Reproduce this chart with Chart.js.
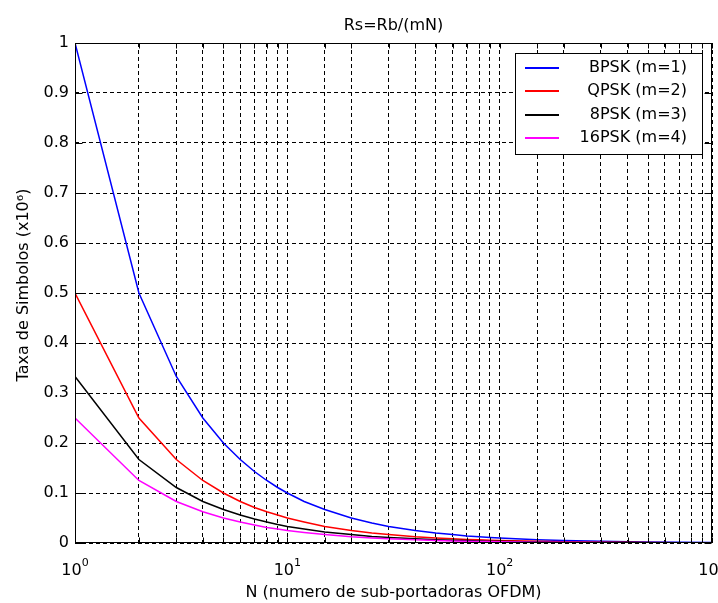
<!DOCTYPE html>
<html><head><meta charset="utf-8">
<script src="https://cdn.jsdelivr.net/npm/chart.js@4/dist/chart.umd.min.js"></script>
<style>html,body{margin:0;padding:0;background:#fff;overflow:hidden}
#wrap{width:718px;height:603px;position:relative}</style>
</head><body><div id="wrap"><canvas id="c" width="718" height="603"></canvas></div>
<script>
const chartTitle = 'Rs=Rb/(mN)';
const xTitle = 'N (numero de sub-portadoras OFDM)';
const yTitle = 'Taxa de Simbolos (x10\u2076)';
const xTickValues = [1, 10, 100, 1000];
const xTickExponents = ['0', '1', '2', '3'];
const seriesLabels = ['BPSK (m=1)', 'QPSK (m=2)', '8PSK (m=3)', '16PSK (m=4)'];
const seriesColors = ['#0000ff', '#ff0000', '#000000', '#ff00ff'];

const N = [1,2,3,4,5,6,7,8,9,10,12,15,20,25,30,40,50,60,70,80,90,100,150,200,300,400,500,700,1000];
const bpsk  = [1,0.5,0.333,0.25,0.2,0.167,0.143,0.125,0.111,0.1,0.083,0.067,0.05,0.04,0.033,0.025,0.02,0.017,0.014,0.0125,0.011,0.01,0.0067,0.005,0.0033,0.0025,0.002,0.0014,0.001];
const qpsk  = [0.5,0.25,0.167,0.125,0.1,0.083,0.071,0.0625,0.056,0.05,0.042,0.033,0.025,0.02,0.017,0.0125,0.01,0.0083,0.0071,0.0063,0.0056,0.005,0.0033,0.0025,0.0017,0.0013,0.001,0.0007,0.0005];
const psk8  = [0.333,0.167,0.111,0.083,0.067,0.056,0.048,0.042,0.037,0.033,0.028,0.022,0.017,0.013,0.011,0.0083,0.0067,0.0056,0.0048,0.0042,0.0037,0.0033,0.0022,0.0017,0.0011,0.0008,0.0007,0.0005,0.0003];
const psk16 = [0.25,0.125,0.083,0.0625,0.05,0.042,0.036,0.031,0.028,0.025,0.021,0.017,0.0125,0.01,0.0083,0.0063,0.005,0.0042,0.0036,0.0031,0.0028,0.0025,0.0017,0.0013,0.0008,0.0006,0.0005,0.0004,0.00025];
const seriesValues = [bpsk, qpsk, psk8, psk16];

const FONT = '"DejaVu Sans", sans-serif';

const decor = {
  id: 'decor',
  afterDraw(chart) {
    const ctx = chart.ctx;
    const a = chart.chartArea;
    const xs = chart.scales.x, ys = chart.scales.y;
    ctx.save();
    ctx.strokeStyle = '#000';
    ctx.lineWidth = 1;
    ctx.setLineDash([]);
    const L = Math.round(a.left) + 0.5, R = Math.round(a.right) - 0.5;
    const T = Math.round(a.top) + 0.5, B = Math.round(a.bottom) - 0.5;
    ctx.strokeRect(L, T, R - L, B - T);
    ctx.beginPath();
    xs.ticks.forEach(t => {
      const px = Math.round(xs.getPixelForValue(t.value)) + 0.5;
      ctx.moveTo(px, B); ctx.lineTo(px, B - 5);
      ctx.moveTo(px, T); ctx.lineTo(px, T + 5);
    });
    ys.ticks.forEach(t => {
      const py = Math.round(ys.getPixelForValue(t.value)) + 0.5;
      ctx.moveTo(L, py); ctx.lineTo(L + 7, py);
      ctx.moveTo(R, py); ctx.lineTo(R - 7, py);
    });
    ctx.stroke();

    ctx.fillStyle = '#000';
    ctx.textBaseline = 'alphabetic';
    xTickValues.forEach((v, i) => {
      const px = xs.getPixelForValue(v);
      ctx.font = '16px ' + FONT;
      const wb = ctx.measureText('10').width;
      ctx.font = '11px ' + FONT;
      const we = ctx.measureText(xTickExponents[i]).width;
      const x0 = px - (wb + we) / 2;
      ctx.font = '16px ' + FONT;
      ctx.textAlign = 'left';
      ctx.fillText('10', x0, 575);
      ctx.font = '11px ' + FONT;
      ctx.fillText(xTickExponents[i], x0 + wb, 566);
    });

    ctx.font = '16px ' + FONT;
    ctx.textAlign = 'center';
    const cx = (a.left + a.right) / 2;
    ctx.fillText(chartTitle, cx, 30);
    ctx.fillText(xTitle, cx, 597);
    ctx.save();
    ctx.translate(28, (a.top + a.bottom) / 2 - 8);
    ctx.rotate(-Math.PI / 2);
    ctx.fillText(yTitle, 0, 0);
    ctx.restore();

    const lx = 515, ly = 53, lw = 187, lh = 101;
    ctx.fillStyle = '#fff';
    ctx.fillRect(lx, ly, lw, lh);
    ctx.strokeStyle = '#000';
    ctx.lineWidth = 1;
    ctx.strokeRect(lx + 0.5, ly + 0.5, lw, lh);
    const rows = [68, 91, 115, 138];
    ctx.font = '16px ' + FONT;
    ctx.textAlign = 'right';
    ctx.textBaseline = 'middle';
    chart.data.datasets.forEach((ds, i) => {
      ctx.strokeStyle = seriesColors[i];
      ctx.lineWidth = 2;
      ctx.beginPath();
      ctx.moveTo(525, rows[i]); ctx.lineTo(559, rows[i]);
      ctx.stroke();
      ctx.fillStyle = '#000';
      ctx.fillText(ds.label, 687, rows[i]);
    });
    ctx.restore();
  }
};

new Chart(document.getElementById('c'), {
  type: 'line',
  data: {
    datasets: seriesLabels.map((lab, i) => ({
      label: lab,
      data: N.map((n, k) => ({ x: n, y: seriesValues[i][k] })),
      borderColor: seriesColors[i],
      backgroundColor: seriesColors[i],
      borderWidth: 1.5,
      pointRadius: 0,
      tension: 0,
      fill: false,
      order: 3 - i
    }))
  },
  options: {
    responsive: false,
    animation: false,
    devicePixelRatio: 1,
    layout: { padding: { top: 43, right: 6, bottom: 0, left: 0 } },
    plugins: { legend: { display: false }, title: { display: false }, tooltip: { enabled: false } },
    scales: {
      x: {
        type: 'logarithmic', min: 1, max: 1000,
        ticks: { display: false, autoSkip: false },
        grid: { color: '#000', lineWidth: 1, drawTicks: false },
        border: { display: false, dash: [4, 3] },
        afterFit(s) { s.height = 60; }
      },
      y: {
        min: 0, max: 1,
        ticks: { stepSize: 0.1, color: '#000', padding: 6, font: { family: FONT, size: 16 },
          callback: v => String(Math.round(v * 10) / 10) },
        grid: { color: '#000', lineWidth: 1, drawTicks: false },
        border: { display: false, dash: [4, 3] },
        afterFit(s) { s.width = 75; }
      }
    }
  },
  plugins: [decor]
});
</script>
</body></html>
